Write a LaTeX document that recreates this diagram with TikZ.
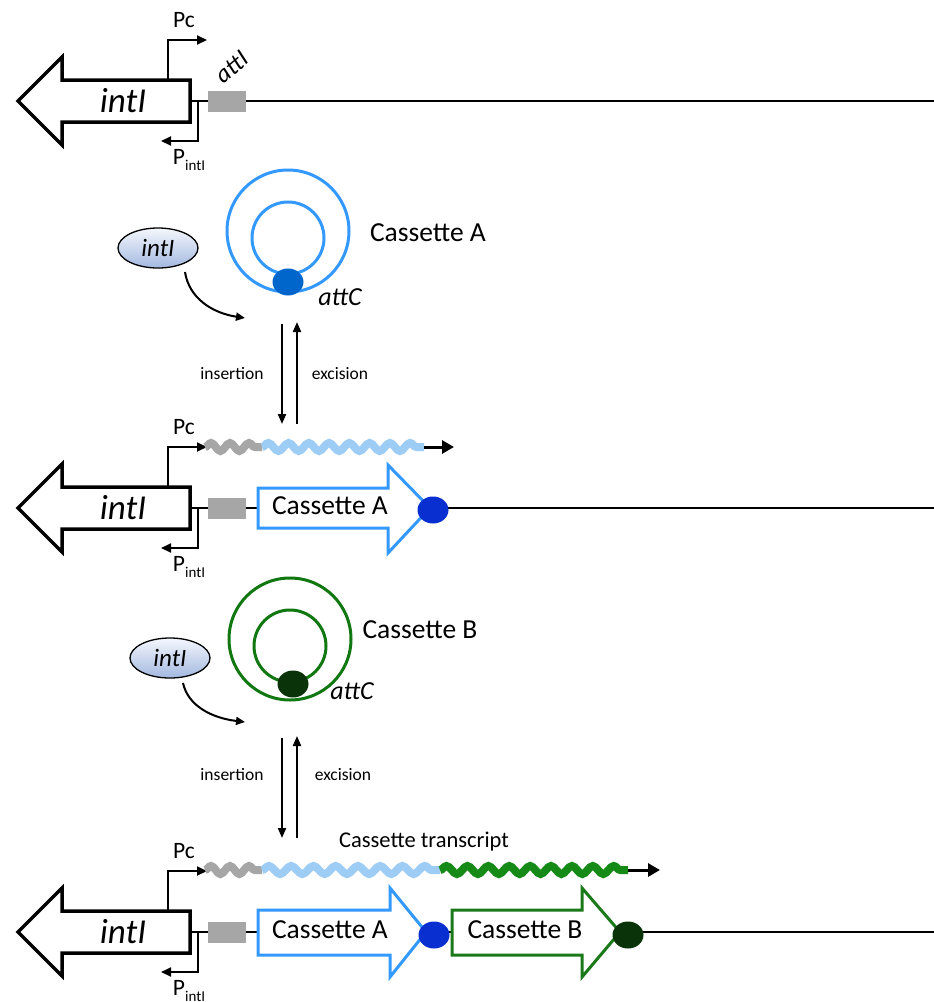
\documentclass[tikz,border=0pt]{standalone}
\usepackage{fontspec}
\setmainfont{Carlito}
\usetikzlibrary{arrows.meta,decorations.pathmorphing,shapes.geometric}
\definecolor{cassblue}{HTML}{3399FF}
\definecolor{ringblue}{HTML}{3399FF}
\definecolor{attcblue}{HTML}{0066CC}
\definecolor{dotblue}{HTML}{0A2FD0}
\definecolor{ringgreen}{HTML}{117711}
\definecolor{cassgreen}{HTML}{1A7A1A}
\definecolor{dotgreen}{HTML}{0A330A}
\definecolor{wavegray}{HTML}{A6A6A6}
\definecolor{waveblue}{HTML}{9DCCF5}
\definecolor{wavegreen}{HTML}{168A16}
\definecolor{enztop}{HTML}{F4F7FC}
\definecolor{enzbot}{HTML}{A3B8E0}
\tikzset{
  fs/.style={font=\fontsize{#1}{#1}\selectfont},
  dnaline/.style={line width=2pt},
  genebox/.style={line width=3.5pt, fill=white, line join=miter},
  promo/.style={line width=2pt, -{Triangle[length=10pt,width=9pt]}},
  attbox/.style={fill=wavegray, draw=none, minimum width=38pt, minimum height=21pt, inner sep=0},
  lbl/.style={inner sep=0, fs=27.5},
  itl/.style={inner sep=0, font=\fontsize{#1}{#1}\selectfont\itshape},
  cassA/.style={genebox, draw=cassblue, line width=3pt},
  cassB/.style={genebox, draw=cassgreen, line width=3pt},
  ring/.style={circle, draw=#1, line width=3pt, inner sep=0},
  spot/.style={ellipse, fill=#1, inner sep=0, minimum width=31pt, minimum height=27pt},
  enzyme/.style={ellipse, draw=black, line width=1.3pt, top color=enztop, bottom color=enzbot,
     minimum width=80pt, minimum height=40pt, inner sep=0, font=\fontsize{25}{25}\selectfont\itshape},
  curv/.style={line width=2pt, -{Triangle[length=9pt,width=8pt]}},
  updown/.style={line width=2pt, -{Triangle[length=10pt,width=8pt]}},
  small/.style={inner sep=0, fs=17.5},
  wave/.style={line width=8pt, draw=#1, decorate, decoration={snake, amplitude=4pt, segment length=20pt}},
  waveend/.style={line width=3pt, -{Triangle[length=12pt,width=13pt]}},
  intlocus/.pic={
    \draw[dnaline] (190,0) -- (934,0);
    \draw[genebox] (18,0) -- (62,-44) -- (62,-21) -- (190,-21) -- (190,21) -- (62,21) -- (62,44) -- cycle;
    \node[itl=35] (-gene) at (123,0) {intI};
    \coordinate (-pcb) at (168,-21);
    \coordinate (-pce) at (207,-61);
    \draw[promo] (-pcb) |- (-pce);
    \coordinate (-pib) at (198,0);
    \coordinate (-pie) at (161,40);
    \draw[promo] (-pib) |- (-pie);
    \node[attbox] (-att) at (227,0) {};
    \node[inner sep=0, fs=23.5] (-pc) at (184,-81) {Pc};
    \node[inner sep=0, fs=23.5] (-pi) at (189,59) {P\raisebox{-6pt}{\fontsize{15}{15}\selectfont intI}};
  }
}
\begin{document}
\begin{tikzpicture}[x=1pt,y=-1pt]
\useasboundingbox[fill=white] (0,0) rectangle (934,1002);

% ---------- Row 1 ----------
\pic (r1) at (0,101) {intlocus};
\node[itl=25, rotate=40] (att1) at (232,-34+101) {attI};

% ---------- Cassette A circle ----------
\node[ring=ringblue, minimum size=122pt] (cAo) at (288,231) {};
\node[ring=ringblue, minimum size=72pt] (cAi) at (288,238) {};
\node[spot=attcblue] (cAd) at (288,282) {};
\node[lbl] (cAl) at (428,233) {Cassette A};
\node[itl=26] (cAatt) at (340,297) {attC};
\node[enzyme] (e1) at (158,248) {intI};
\coordinate (e1s) at (185,272);
\coordinate (e1t) at (245,318);
\draw[curv] (e1s) .. controls (189,298) and (212,313) .. (e1t);
\coordinate (i1a) at (282,324);
\coordinate (i1b) at (282,424);
\coordinate (x1a) at (297,424);
\coordinate (x1b) at (297,322);
\draw[updown] (i1a) -- (i1b);
\draw[updown] (x1a) -- (x1b);
\node[small] (ins1) at (232,374) {insertion};
\node[small] (exc1) at (340,374) {excision};

% ---------- Row 2 ----------
\pic (r2) at (0,508) {intlocus};
\draw[cassA] (258,488) -- (388,488) -- (388,465) -- (430,508) -- (388,553) -- (388,528) -- (258,528) -- cycle;
\node[lbl] (r2A) at (330,506) {Cassette A};
\node[spot=dotblue] (r2dA) at (433,510) {};
\coordinate (w2a) at (205,447);
\coordinate (w2b) at (262,447);
\coordinate (w2c) at (424,447);
\coordinate (w2d) at (454,447);
\draw[wave=wavegray, decoration={segment length=19pt}] (w2a) -- (w2b);
\draw[wave=waveblue, decoration={segment length=20.25pt}] (w2b) -- (w2c);
\draw[waveend] (w2c) -- (w2d);

% ---------- Cassette B circle ----------
\node[ring=ringgreen, minimum size=122pt] (cBo) at (290,639) {};
\node[ring=ringgreen, minimum size=72pt] (cBi) at (290,646) {};
\node[spot=dotgreen] (cBd) at (293,684) {};
\node[lbl] (cBl) at (420,630) {Cassette B};
\node[itl=26] (cBatt) at (352,691) {attC};
\node[enzyme] (e2) at (170,658) {intI};
\coordinate (e2s) at (183,683);
\coordinate (e2t) at (245,722);
\draw[curv] (e2s) .. controls (188,706) and (212,718) .. (e2t);
\coordinate (i2a) at (282,738);
\coordinate (i2b) at (282,838);
\coordinate (x2a) at (297,838);
\coordinate (x2b) at (297,736);
\draw[updown] (i2a) -- (i2b);
\draw[updown] (x2a) -- (x2b);
\node[small] (ins2) at (232,775) {insertion};
\node[small] (exc2) at (343,775) {excision};

% ---------- Row 3 ----------
\pic (r3) at (0,932) {intlocus};
\draw[cassA] (258,910) -- (390,910) -- (390,888) -- (426,932) -- (390,977) -- (390,955) -- (258,955) -- cycle;
\node[lbl] (r3A) at (330,930) {Cassette A};
\draw[cassB] (452,910) -- (582,910) -- (582,888) -- (620,932) -- (582,977) -- (582,955) -- (452,955) -- cycle;
\node[lbl] (r3B) at (525,930) {Cassette B};
\node[spot=dotblue] (r3dA) at (434,935) {};
\node[spot=dotgreen] (r3dB) at (628,935) {};
\coordinate (w3a) at (205,870);
\coordinate (w3b) at (262,870);
\coordinate (w3c) at (440,870);
\coordinate (w3d) at (628,870);
\coordinate (w3e) at (660,870);
\draw[wave=wavegray, decoration={segment length=19pt}] (w3a) -- (w3b);
\draw[wave=waveblue, decoration={segment length=22.25pt}] (w3b) -- (w3c);
\draw[wave=wavegreen, decoration={segment length=20.9pt}] (w3c) -- (w3d);
\draw[waveend] (w3d) -- (w3e);
\node[inner sep=0, fs=22.5] (tr) at (424,842) {Cassette transcript};
\end{tikzpicture}
\end{document}
